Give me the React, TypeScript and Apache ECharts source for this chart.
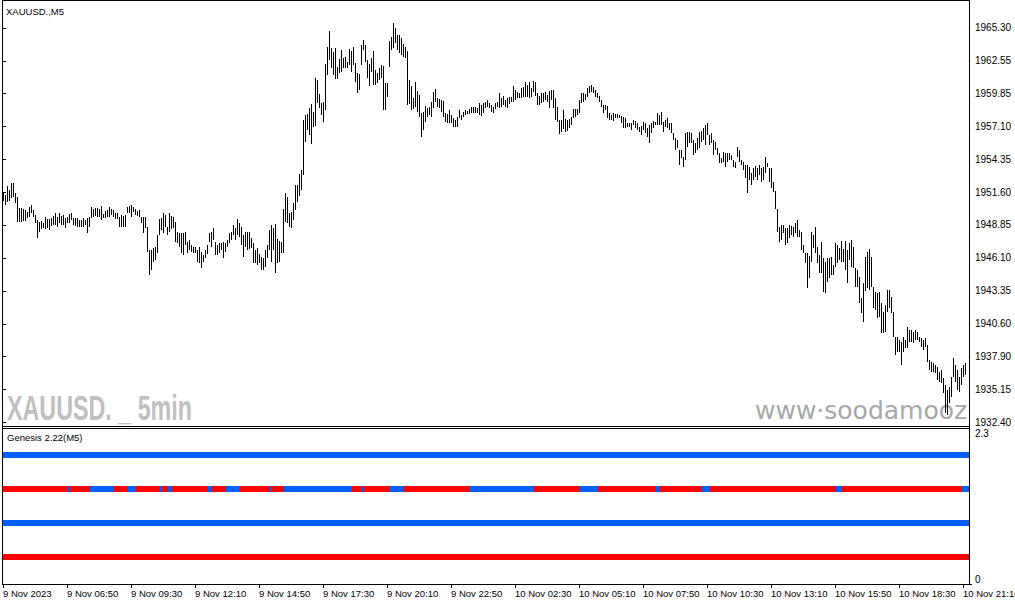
import React, { useEffect, useRef } from "react";
import * as echarts from "echarts";

const FONT = "'Liberation Sans', Arial, sans-serif";

const X_LABELS = [
  "9 Nov 2023", "9 Nov 06:50", "9 Nov 09:30", "9 Nov 12:10", "9 Nov 14:50", "9 Nov 17:30",
  "9 Nov 20:10", "9 Nov 22:50", "10 Nov 02:30", "10 Nov 05:10", "10 Nov 07:50", "10 Nov 10:30",
  "10 Nov 13:10", "10 Nov 15:50", "10 Nov 18:30", "10 Nov 21:10",
];
const BARS_PER_LABEL = 32;

const PRICE_TICKS = [
  1932.4, 1935.15, 1937.9, 1940.6, 1943.35, 1946.1, 1948.85, 1951.6, 1954.35, 1957.1, 1959.85, 1962.55, 1965.3,
];
const PRICE_MIN = 1932.066;
const PRICE_MAX = 1967.471;

const SUB_TOP_TICK = [2.3];
const SUB_BOTTOM_TICK = [0];
const SUB_MIN = 0;
const SUB_MAX = 2.3;
const ROW_LEVELS = [1.9, 1.4, 0.9, 0.4];

const HIGH = [
  1951.63,1951.35,1952.10,1951.77,1952.33,1952.33,1951.55,1951.21,1950.24,1950.24,
  1950.16,1950.10,1949.96,1950.32,1950.52,1950.10,1949.68,1949.27,1949.13,1949.21,
  1949.04,1949.54,1949.32,1949.32,1949.40,1949.60,1949.82,1949.54,1949.88,1949.60,
  1949.68,1949.40,1949.54,1949.77,1949.82,1949.40,1949.40,1949.40,1949.27,1949.27,
  1949.40,1949.27,1949.40,1949.54,1950.32,1950.16,1950.24,1950.24,1950.16,1950.43,
  1949.77,1950.05,1950.10,1950.32,1950.16,1950.10,1949.82,1949.82,1949.54,1949.68,
  1949.60,1949.68,1950.32,1950.43,1950.52,1950.32,1950.16,1950.05,1950.10,1949.54,
  1949.54,1949.54,1948.71,1946.76,1946.76,1946.90,1947.04,1948.01,1949.32,1949.40,
  1949.82,1949.68,1948.71,1949.82,1949.60,1949.54,1949.13,1948.29,1948.15,1948.15,
  1948.15,1948.29,1947.46,1947.60,1947.18,1947.04,1947.04,1946.76,1947.04,1946.62,
  1946.34,1946.76,1947.18,1948.15,1948.29,1948.57,1947.46,1947.18,1947.32,1947.37,
  1947.46,1947.32,1947.60,1948.15,1948.29,1948.85,1948.57,1949.32,1948.99,1948.71,
  1948.01,1948.29,1948.29,1948.29,1947.74,1947.32,1946.77,1946.96,1946.40,1946.21,
  1946.13,1946.77,1947.18,1948.44,1948.85,1948.57,1948.91,1947.68,1947.52,1947.46,
  1950.19,1951.50,1951.22,1949.83,1949.97,1950.66,1952.19,1952.19,1953.08,1953.44,
  1957.62,1958.04,1958.09,1958.59,1958.93,1958.32,1961.15,1960.96,1959.76,1959.01,
  1959.09,1962.27,1963.74,1965.05,1963.60,1963.27,1963.60,1962.07,1962.71,1963.46,
  1962.77,1962.91,1962.49,1963.52,1963.38,1963.74,1962.35,1961.52,1961.43,1963.88,
  1964.30,1963.88,1962.63,1962.27,1962.82,1963.38,1961.79,1961.52,1961.93,1962.21,
  1962.16,1960.68,1960.68,1964.22,1964.58,1965.69,1965.27,1964.72,1964.72,1964.44,
  1963.94,1963.74,1963.38,1960.96,1960.46,1959.43,1960.82,1960.07,1959.71,1958.18,
  1958.31,1958.79,1958.59,1958.73,1959.15,1959.98,1960.18,1959.43,1959.34,1959.29,
  1959.23,1958.18,1958.12,1958.45,1958.04,1957.76,1957.62,1957.90,1958.45,1958.04,
  1958.31,1958.45,1958.40,1958.51,1958.68,1958.68,1958.68,1958.59,1959.07,1958.87,
  1959.01,1959.15,1959.29,1959.07,1958.87,1958.68,1959.01,1959.15,1959.85,1959.43,
  1959.62,1959.29,1959.43,1959.57,1959.57,1960.46,1960.12,1959.98,1959.85,1960.26,
  1960.35,1960.82,1960.54,1960.82,1960.26,1960.88,1960.82,1959.90,1959.62,1959.85,
  1959.90,1959.98,1959.71,1960.07,1960.12,1960.12,1959.43,1958.73,1957.62,1957.62,
  1958.45,1957.67,1957.62,1957.67,1957.84,1958.51,1958.51,1958.51,1959.29,1959.85,
  1959.85,1959.79,1960.26,1960.46,1960.54,1960.40,1960.12,1959.85,1959.62,1959.29,
  1958.87,1958.87,1958.79,1958.18,1958.04,1958.18,1958.09,1958.12,1958.04,1957.95,
  1957.90,1957.76,1957.40,1957.34,1957.40,1957.62,1957.56,1957.34,1957.06,1957.12,
  1957.48,1957.40,1956.92,1957.20,1957.34,1957.56,1957.48,1958.17,1958.04,1958.31,
  1957.48,1957.62,1957.76,1957.40,1957.34,1956.50,1956.09,1955.95,1955.11,1955.11,
  1954.56,1956.56,1956.64,1956.64,1956.56,1955.95,1955.67,1956.09,1956.64,1956.73,
  1956.92,1957.20,1957.34,1956.37,1956.50,1955.95,1955.81,1955.25,1954.84,1954.42,
  1954.97,1954.84,1954.84,1954.84,1954.70,1954.28,1954.14,1955.39,1955.11,1954.28,
  1954.14,1953.86,1953.86,1953.72,1953.17,1953.58,1953.78,1953.58,1953.86,1953.58,
  1953.72,1954.50,1954.00,1953.58,1953.58,1952.47,1951.72,1950.16,1948.71,1948.85,
  1948.85,1948.57,1948.57,1948.85,1948.77,1948.71,1948.99,1949.27,1948.43,1948.30,
  1947.18,1946.49,1946.49,1946.26,1948.30,1948.02,1948.71,1947.04,1946.35,1947.46,
  1946.07,1945.79,1946.07,1946.07,1946.21,1945.51,1947.38,1947.18,1946.90,1947.54,
  1946.82,1947.54,1946.76,1947.32,1947.60,1947.04,1945.23,1945.09,1944.54,1942.73,
  1943.98,1946.15,1946.63,1946.82,1946.21,1943.70,1943.29,1943.20,1943.28,1942.31,
  1941.61,1942.17,1943.42,1943.42,1942.87,1941.61,1939.53,1939.53,1939.25,1939.11,
  1939.53,1939.25,1940.36,1940.08,1940.08,1939.94,1940.08,1939.94,1939.53,1939.39,
  1939.25,1939.39,1938.83,1937.58,1937.44,1937.30,1937.16,1937.02,1936.61,1936.74,
  1936.05,1935.49,1935.07,1935.35,1936.19,1937.72,1937.16,1936.74,1936.19,1936.88,
  1937.16,1937.30,
];

const LOW = [
  1950.88,1950.52,1950.80,1950.88,1951.07,1951.21,1950.66,1949.13,1949.07,1949.13,
  1949.21,1949.21,1949.40,1949.54,1949.82,1949.54,1948.99,1947.73,1948.29,1948.49,
  1948.57,1948.49,1948.57,1948.43,1948.76,1948.85,1948.85,1948.71,1948.99,1948.85,
  1948.85,1948.57,1948.99,1948.99,1949.27,1948.85,1948.76,1948.71,1948.71,1948.65,
  1948.71,1948.85,1948.15,1948.65,1949.40,1949.54,1949.60,1949.49,1949.54,1949.27,
  1949.40,1949.40,1949.54,1949.54,1949.68,1949.54,1949.32,1949.32,1948.65,1948.71,
  1948.71,1948.71,1949.88,1949.82,1949.49,1949.96,1949.68,1949.60,1949.54,1948.99,
  1948.21,1948.57,1946.62,1944.67,1945.09,1945.79,1945.93,1946.48,1948.01,1948.43,
  1948.15,1948.71,1948.01,1948.29,1948.49,1948.57,1947.46,1947.32,1947.04,1946.48,
  1946.34,1947.18,1946.48,1946.76,1946.62,1946.48,1946.48,1945.79,1945.70,1945.23,
  1945.79,1946.07,1946.43,1947.46,1947.04,1947.60,1946.34,1946.34,1946.48,1946.76,
  1946.07,1946.62,1947.04,1947.32,1947.60,1948.01,1947.60,1948.01,1947.88,1947.18,
  1946.21,1947.04,1946.76,1946.82,1946.90,1945.65,1945.65,1945.51,1945.65,1945.10,
  1945.10,1945.37,1946.07,1946.77,1945.79,1946.77,1944.82,1945.65,1945.79,1946.49,
  1946.49,1949.13,1949.00,1948.71,1948.63,1949.27,1950.11,1950.80,1951.30,1951.77,
  1953.03,1955.81,1956.78,1956.37,1955.59,1957.06,1957.15,1959.01,1958.59,1958.04,
  1957.42,1958.45,1961.38,1962.63,1961.93,1961.38,1961.04,1961.04,1961.52,1961.65,
  1961.93,1961.99,1961.93,1962.21,1961.65,1962.21,1960.82,1959.85,1960.12,1962.21,
  1963.46,1962.49,1961.10,1960.49,1961.65,1960.54,1960.54,1960.68,1960.96,1961.10,
  1958.45,1958.45,1959.57,1962.07,1963.46,1963.60,1964.02,1963.46,1963.19,1963.05,
  1962.91,1962.77,1958.87,1958.93,1958.45,1958.51,1958.73,1958.31,1957.90,1956.17,
  1956.78,1957.48,1957.90,1958.04,1957.90,1958.59,1959.15,1958.73,1958.59,1958.31,
  1957.90,1957.48,1957.40,1957.34,1957.34,1957.06,1957.01,1957.06,1957.76,1957.62,
  1957.90,1958.04,1958.12,1958.12,1958.18,1958.23,1958.18,1958.18,1958.04,1957.95,
  1958.18,1958.59,1958.73,1958.59,1958.31,1958.23,1958.51,1958.68,1958.59,1958.73,
  1958.87,1958.73,1958.59,1958.95,1959.15,1959.15,1959.29,1959.43,1959.43,1959.43,
  1959.57,1959.51,1959.57,1959.43,1959.57,1959.98,1959.62,1958.87,1958.87,1959.01,
  1959.15,1959.29,1959.15,1958.59,1959.29,1958.59,1957.62,1957.48,1956.45,1956.64,
  1956.84,1956.64,1956.73,1956.92,1957.20,1957.76,1957.90,1958.04,1958.18,1959.01,
  1959.15,1959.29,1959.57,1959.85,1959.98,1959.85,1959.57,1959.43,1959.15,1958.73,
  1958.18,1958.45,1957.76,1957.62,1957.62,1957.56,1957.76,1957.76,1957.76,1957.34,
  1956.92,1956.92,1957.06,1957.06,1956.78,1957.20,1956.92,1956.78,1956.64,1956.37,
  1956.78,1956.50,1956.23,1955.67,1956.50,1956.92,1957.20,1957.20,1957.20,1957.20,
  1956.64,1957.06,1956.92,1956.78,1956.50,1955.95,1955.11,1955.25,1953.86,1954.42,
  1953.72,1954.28,1955.39,1955.67,1955.67,1954.70,1954.84,1955.11,1955.25,1955.81,
  1955.95,1955.53,1956.37,1955.53,1955.67,1954.70,1955.11,1954.70,1954.00,1954.00,
  1954.14,1953.72,1954.14,1954.28,1954.28,1953.72,1953.58,1954.56,1954.14,1953.86,
  1953.44,1952.75,1951.50,1952.61,1952.19,1952.61,1952.89,1952.61,1953.03,1952.47,
  1952.61,1953.17,1953.72,1952.47,1951.91,1951.63,1950.16,1948.30,1947.46,1947.60,
  1948.16,1947.18,1947.32,1947.74,1948.02,1947.88,1948.16,1947.82,1947.88,1946.76,
  1946.49,1945.65,1943.56,1944.40,1945.79,1946.90,1946.49,1945.65,1944.82,1944.82,
  1943.29,1943.15,1944.12,1944.40,1944.68,1944.68,1945.37,1945.65,1945.93,1945.79,
  1945.79,1945.09,1944.04,1945.93,1945.37,1945.23,1943.70,1943.70,1942.31,1941.47,
  1940.78,1943.30,1943.60,1943.42,1943.70,1941.89,1941.75,1941.06,1941.20,1939.81,
  1939.81,1939.94,1941.61,1941.89,1941.47,1939.53,1938.00,1938.28,1938.28,1937.16,
  1938.28,1938.55,1938.55,1939.11,1939.11,1938.97,1939.25,1939.25,1939.11,1938.69,
  1938.41,1938.69,1937.44,1936.74,1936.61,1936.61,1936.47,1935.91,1935.77,1935.63,
  1934.80,1933.13,1932.99,1933.96,1934.52,1936.19,1935.77,1935.07,1934.94,1935.49,
  1936.19,1936.33,
];

// Genesis rows: [firstBar, lastBar, colour]
const ROW1_SEGMENTS: [number, number, string][] = [[0, 481, "B"]];
const ROW2_SEGMENTS: [number, number, string][] = [
  [0, 32, "R"], [33, 33, "B"], [34, 43, "R"], [44, 55, "B"], [56, 62, "R"], [63, 66, "B"],
  [67, 78, "R"], [79, 79, "B"], [80, 82, "R"], [83, 84, "B"], [85, 102, "R"], [103, 104, "B"],
  [105, 111, "R"], [112, 118, "B"], [119, 133, "R"], [134, 134, "B"], [135, 140, "R"], [141, 174, "B"],
  [175, 179, "R"], [180, 180, "B"], [181, 193, "R"], [194, 200, "B"], [201, 233, "R"], [234, 265, "B"],
  [266, 288, "R"], [289, 297, "B"], [298, 326, "R"], [327, 328, "B"], [329, 349, "R"], [350, 353, "B"],
  [354, 416, "R"], [417, 419, "B"], [420, 479, "R"], [480, 481, "B"],
];
const ROW3_SEGMENTS: [number, number, string][] = [[0, 481, "B"]];
const ROW4_SEGMENTS: [number, number, string][] = [[0, 481, "R"]];

const COLORS: Record<string, string> = { R: "#FF0000", B: "#0060FF" };

export default function App() {
  const ref = useRef<HTMLDivElement>(null);

  useEffect(() => {
    if (!ref.current) return;
    const chart = echarts.init(ref.current, null, { renderer: "svg" });
    const N = HIGH.length;
    const labelIdx = X_LABELS.map((_, k) => k * BARS_PER_LABEL);
    const barData = HIGH.map((h, i) => [i, LOW[i], h]);

    const rows = [ROW1_SEGMENTS, ROW2_SEGMENTS, ROW3_SEGMENTS, ROW4_SEGMENTS];
    const rowData: number[][] = [];
    rows.forEach((segs, r) => {
      segs.forEach(([s, e, c]) => rowData.push([s, e, ROW_LEVELS[r], c === "R" ? 0 : 1]));
    });

    const frame = (x1: number, y1: number, x2: number, y2: number) => ({
      type: "line",
      z: 100,
      silent: true,
      shape: { x1, y1, x2, y2 },
      style: { stroke: "#000", lineWidth: 1 },
    });

    const subY = (ticks: number[], va: string) => ({
      type: "value",
      gridIndex: 1,
      position: "right",
      offset: 3,
      min: SUB_MIN,
      max: SUB_MAX,
      axisLine: { show: false },
      splitLine: { show: false },
      axisTick: { show: true, length: 3, customValues: ticks, lineStyle: { color: "#000" } },
      axisLabel: {
        show: true,
        customValues: ticks,
        formatter: (v: number) => String(v),
        margin: 6,
        color: "#000",
        fontSize: 10,
        fontFamily: FONT,
        verticalAlign: va,
      },
    });

    const option: any = {
      animation: false,
      backgroundColor: "#ffffff",
      textStyle: { fontFamily: FONT },
      grid: [
        { left: 2, top: 2, width: 964, height: 424, containLabel: false, outerBoundsMode: "none" },
        { left: 2, top: 428, width: 964, height: 156, containLabel: false, outerBoundsMode: "none" },
      ],
      xAxis: [
        {
          type: "value",
          gridIndex: 0,
          min: -0.5,
          max: N - 0.5,
          axisLine: { show: false },
          axisTick: { show: false },
          axisLabel: { show: false },
          splitLine: { show: false },
        },
        {
          type: "value",
          gridIndex: 1,
          min: -0.5,
          max: N - 0.5,
          axisLine: { show: false },
          splitLine: { show: false },
          axisTick: {
            show: true,
            customValues: labelIdx,
            length: 4,
            lineStyle: { color: "#000", width: 1 },
          },
          axisLabel: {
            show: true,
            customValues: labelIdx,
            formatter: (v: number) => X_LABELS[Math.round(v / BARS_PER_LABEL)] ?? "",
            align: "left",
            margin: 4,
            color: "#000",
            fontSize: 9.5,
            fontFamily: FONT,
          },
        },
      ],
      yAxis: [
        {
          type: "value",
          gridIndex: 0,
          position: "right",
          offset: 3,
          min: PRICE_MIN,
          max: PRICE_MAX,
          axisLine: { show: false },
          splitLine: { show: false },
          axisTick: { show: true, length: 3, customValues: PRICE_TICKS, lineStyle: { color: "#000" } },
          axisLabel: {
            show: true,
            customValues: PRICE_TICKS,
            formatter: (v: number) => v.toFixed(2),
            margin: 6,
            color: "#000",
            fontSize: 10,
            fontFamily: FONT,
          },
        },
        subY(SUB_TOP_TICK, "top"),
        subY(SUB_BOTTOM_TICK, "bottom"),
      ],
      series: [
        {
          type: "custom",
          xAxisIndex: 0,
          yAxisIndex: 0,
          encode: { x: 0, y: [1, 2] },
          data: barData,
          silent: true,
          renderItem: (_p: any, api: any) => {
            const i = api.value(0);
            const lo = api.coord([i, api.value(1)]);
            const hi = api.coord([i, api.value(2)]);
            const x = Math.floor(lo[0]) + 0.5;
            const y1 = Math.round(hi[1]);
            const y2 = Math.max(Math.round(lo[1]), y1 + 1);
            return {
              type: "line",
              shape: { x1: x, y1, x2: x, y2 },
              style: { stroke: "#000", lineWidth: 1 },
            };
          },
        },
        {
          type: "custom",
          xAxisIndex: 1,
          yAxisIndex: 1,
          encode: { x: [0, 1], y: 2 },
          data: rowData,
          silent: true,
          renderItem: (_p: any, api: any) => {
            const s = api.value(0);
            const e = api.value(1);
            const lvl = api.value(2);
            const c = api.value(3) === 0 ? COLORS.R : COLORS.B;
            const p0 = api.coord([s, lvl]);
            const p1 = api.coord([e, lvl]);
            const x0 = Math.round(p0[0] - 1);
            let x1 = Math.round(p1[0] + 1);
            if (e === N - 1) x1 += 3;
            const yc = Math.round(p0[1]);
            return {
              type: "rect",
              shape: { x: x0, y: yc - 3, width: x1 - x0, height: 6 },
              style: { fill: c },
            };
          },
        },
      ],
      graphic: [
        {
          type: "text",
          x: 7,
          y: 407.5,
          scaleX: 0.647,
          silent: true,
          style: {
            text: "XAUUSD. _ 5min",
            fill: "#C0C0C0",
            fontSize: 36,
            fontWeight: "bold",
            fontFamily: FONT,
            textVerticalAlign: "middle",
          },
        },
        {
          type: "text",
          x: 755,
          y: 410,
          silent: true,
          style: {
            text: "www·soodamooz",
            fill: "#A8A8A8",
            fontSize: 25,
            fontFamily: "'DejaVu Sans', sans-serif",
            textVerticalAlign: "middle",
          },
        },
        {
          type: "text",
          x: 6,
          y: 11,
          z: 100,
          silent: true,
          style: { text: "XAUUSD.,M5", fill: "#000", fontSize: 9.5, fontFamily: FONT, textVerticalAlign: "middle" },
        },
        {
          type: "text",
          x: 7,
          y: 437.5,
          z: 100,
          silent: true,
          style: { text: "Genesis 2.22(M5)", fill: "#000", fontSize: 9.5, fontFamily: FONT, textVerticalAlign: "middle" },
        },
        frame(2.5, 0, 2.5, 585),
        frame(2, 0.5, 970, 0.5),
        frame(969.5, 0, 969.5, 585),
        frame(2, 426.5, 970, 426.5),
        frame(2, 428.5, 970, 428.5),
        frame(2, 584.5, 970, 584.5),
      ],
    };

    chart.setOption(option);
    return () => chart.dispose();
  }, []);

  return (
    <div
      ref={ref}
      style={{ position: "fixed", left: 0, top: 0, width: 1015, height: 605, background: "#ffffff" }}
    />
  );
}
